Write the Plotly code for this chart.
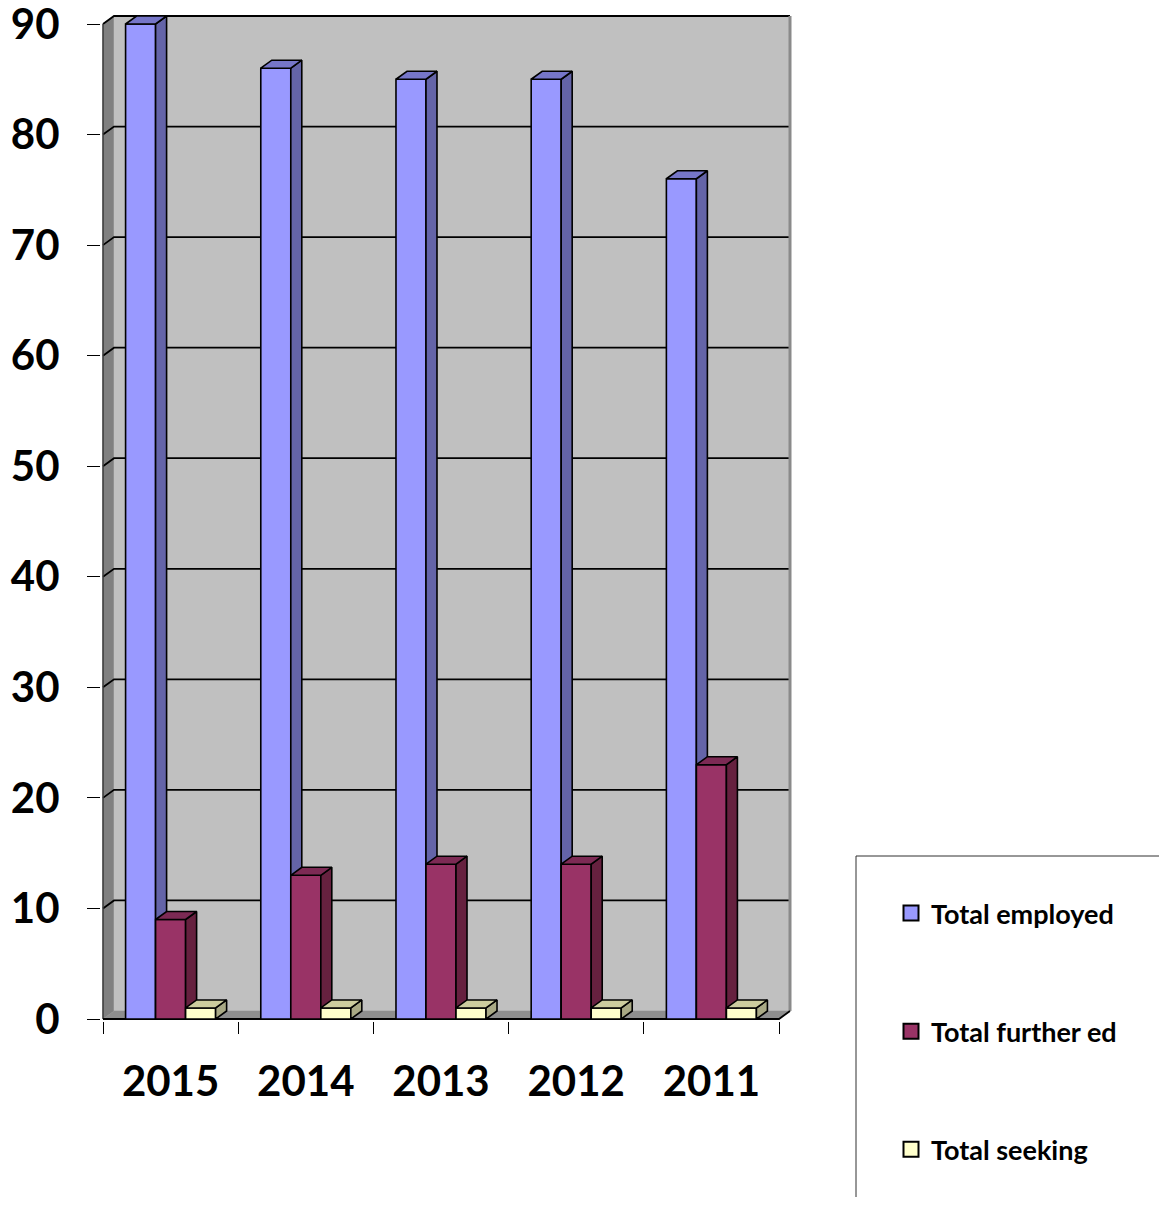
import plotly.graph_objects as go

# ---------------- data ----------------
years = ["2015", "2014", "2013", "2012", "2011"]
total_employed = [90, 86, 85, 85, 76]
total_further_ed = [9, 13, 14, 14, 23]
total_seeking = [1, 1, 1, 1, 1]
series_names = ["Total employed", "Total further ed", "Total seeking"]
y_tick_values = [0, 10, 20, 30, 40, 50, 60, 70, 80, 90]

# ---------------- style ----------------
front_colors = ["#9999FF", "#993366", "#FFFFCC"]
top_colors = ["#7676C8", "#7C2A54", "#CCCC9E"]
side_colors = ["#6464A8", "#66213F", "#A9A985"]
BLACK = "#000000"

# page has an 8px body margin; figure sized to fit the window
W, H = 1159, 1189
ML, MR, MT, MB = 93, 372, 0, 176
PX_X = 135.2      # pixels per category unit
PX_Y = 11.0556    # pixels per value unit
x_lo = -0.5 - 2 / PX_X
x_hi = x_lo + (W - ML - MR) / PX_X
y_lo = -2 / PX_Y
y_hi = y_lo + (H - MT - MB) / PX_Y
DX = 11 / PX_X    # 3-D depth offset
DY = 8 / PX_Y
BAR_W = 0.222
n = len(years)
x_left_end, x_right_end = -0.5, n - 0.5
y_max = max(y_tick_values)

fig = go.Figure()


def poly(xs, ys, fill, line_color=BLACK, line_width=1.6):
    fig.add_trace(go.Scatter(
        x=xs, y=ys, mode="lines", fill="toself", fillcolor=fill,
        line=dict(color=line_color, width=line_width),
        hoverinfo="skip", showlegend=False))


def line(xs, ys, color, width):
    fig.add_trace(go.Scatter(
        x=xs, y=ys, mode="lines", line=dict(color=color, width=width),
        hoverinfo="skip", showlegend=False))


# walls and floor
poly([x_left_end, x_left_end + DX, x_left_end + DX, x_left_end, x_left_end],
     [0, DY, y_max + DY, y_max, 0], "#808080", "#808080", 0.5)
poly([x_left_end + DX, x_right_end + DX, x_right_end + DX, x_left_end + DX, x_left_end + DX],
     [DY, DY, y_max + DY, y_max + DY, DY], "#C0C0C0", "#C0C0C0", 0.5)
poly([x_left_end, x_right_end, x_right_end + DX, x_left_end + DX, x_left_end],
     [0, 0, DY, DY, 0], "#8E8E8E", "#8E8E8E", 0.5)

# gridlines on side wall and back wall
gx, gy = [], []
for v in y_tick_values[1:]:
    gx += [x_left_end, x_left_end + DX, x_right_end + DX, None]
    gy += [v, v + DY, v + DY, None]
line(gx, gy, BLACK, 1.8)

# right edge of back wall
line([x_right_end + DX, x_right_end + DX], [DY, y_max + DY], "#8A8A8A", 3)

# front edges (axes)
line([x_left_end, x_left_end], [0, y_max], "#3A3A3A", 1.5)
line([x_left_end, x_right_end, x_right_end + DX], [0, 0, DY], BLACK, 1.8)

# 3-D bars
all_series = [total_employed, total_further_ed, total_seeking]
for k, values in enumerate(all_series):
    fx, fy, sx, sy, tx, ty = [], [], [], [], [], []
    for i, v in enumerate(values):
        xl = i - 1.5 * BAR_W + k * BAR_W
        xr = xl + BAR_W
        fx += [xl, xr, xr, xl, xl, None]
        fy += [0, 0, v, v, 0, None]
        sx += [xr, xr + DX, xr + DX, xr, xr, None]
        sy += [0, DY, v + DY, v, 0, None]
        tx += [xl, xr, xr + DX, xl + DX, xl, None]
        ty += [v, v, v + DY, v + DY, v, None]
    poly(fx, fy, front_colors[k])
    poly(sx, sy, side_colors[k])
    poly(tx, ty, top_colors[k])

# legend entries
for k, name in enumerate(series_names):
    fig.add_trace(go.Scatter(
        x=[None], y=[None], mode="markers", name=name,
        legendgroup=name,
        marker=dict(symbol="square", size=15, color=front_colors[k],
                    line=dict(color=BLACK, width=2))))

plot_w = W - ML - MR
plot_h = H - MT - MB
box_left, box_top = 848, 848
fig.add_shape(type="rect", xref="paper", yref="paper",
              x0=(box_left - ML) / plot_w, x1=(1250 - ML) / plot_w,
              y0=(H - MB - 1250) / plot_h, y1=(H - MB - box_top) / plot_h,
              line=dict(color="#303030", width=1))

fig.update_layout(
    width=W, height=H,
    margin=dict(l=ML, r=MR, t=MT, b=MB, autoexpand=False),
    paper_bgcolor="white", plot_bgcolor="white",
    showlegend=True,
    legend=dict(
        xref="container", yref="container",
        x=883 / W, xanchor="left",
        y=1 - 881 / H, yanchor="top",
        traceorder="grouped", tracegroupgap=80,
        font=dict(family="Lato", size=27, color=BLACK, weight="bold"),
        bgcolor="rgba(0,0,0,0)", borderwidth=0,
        itemclick=False, itemdoubleclick=False,
    ),
    xaxis=dict(
        range=[x_lo, x_hi], showgrid=False, zeroline=False, showline=False,
        tickmode="array", tickvals=list(range(n)), ticktext=years, ticks="",
        tickfont=dict(family="Lato", size=42, color=BLACK, weight="bold"),
        ticklabelstandoff=32,
        minor=dict(tickmode="array",
                   tickvals=[i - 0.5 for i in range(n + 1)],
                   ticks="outside", ticklen=12, tickwidth=1, tickcolor=BLACK,
                   showgrid=False),
        fixedrange=True,
    ),
    yaxis=dict(
        range=[y_lo, y_hi], showgrid=False, zeroline=False, showline=False,
        tickmode="array", tickvals=y_tick_values,
        ticks="outside", ticklen=13, tickwidth=1, tickcolor=BLACK,
        tickfont=dict(family="Lato", size=42, color=BLACK, weight="bold"),
        ticklabelstandoff=19, ticklabeloverflow="allow",
        fixedrange=True,
    ),
)

fig.write_html("out.html")
